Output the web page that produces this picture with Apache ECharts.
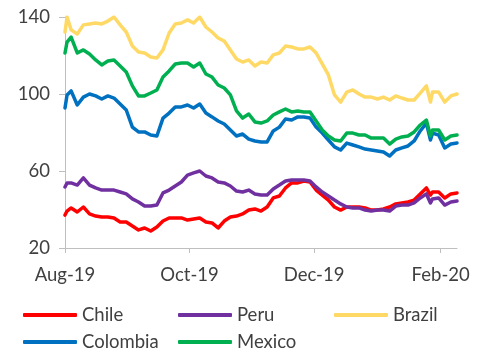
<!DOCTYPE html>
<html><head><meta charset="utf-8">
<script src="https://cdn.jsdelivr.net/npm/echarts@6/dist/echarts.min.js"></script>
<style>html,body{margin:0;padding:0;background:#fff}#c{width:480px;height:352px}</style>
</head><body><div id="c"></div>
<script>
// x = days since 1 Aug 2019
var days = [0,1,3,6,9,12,15,18,21,24,27,30,33,36,39,42,45,48,51,54,57,60,63,66,69,72,75,78,81,84,87,90,93,96,99,102,105,108,111,114,117,120,123,126,129,132,135,138,141,144,147,150,153,156,159,162,165,168,171,174,177,179,180,183,186,189,192];
var tickDays = [0,61,122,184];
var tickLabels = ['Aug-19','Oct-19','Dec-19','Feb-20'];
var yTicks = [20,60,100,140];

var chile = [37.1,39.2,40.8,38.7,41.3,37.7,36.6,36.1,36.1,35.6,33.5,33.5,31.4,29.4,30.4,28.8,30.9,34.0,35.6,35.6,35.6,34.5,35.1,35.6,33.5,33.0,30.4,34.0,36.1,36.6,37.7,39.7,40.3,39.2,41.3,46.0,47.0,51.2,53.8,53.8,54.8,54.3,50.1,47.5,44.9,41.3,39.7,41.3,41.3,41.3,40.8,39.7,39.7,40.3,41.3,42.9,43.4,43.9,44.9,48.1,51.2,47.5,49.1,49.1,46.0,48.1,48.6];
var peru = [51.7,53.8,53.8,52.7,56.4,52.7,51.2,50.1,50.1,50.1,49.1,48.1,45.5,43.9,41.8,41.8,42.3,48.6,50.1,52.2,54.3,57.9,59.0,60.0,57.4,56.4,54.3,53.8,52.2,49.6,49.1,50.1,48.1,47.5,47.5,50.7,52.7,54.8,55.3,55.3,55.3,54.8,51.7,49.1,47.0,44.9,42.9,41.3,40.8,40.8,39.7,39.2,39.7,39.7,39.2,41.8,42.3,42.3,43.4,46.0,48.1,43.4,45.5,46.0,42.3,43.9,44.4];
var brazil = [132.2,140.0,133.3,131.2,135.9,136.4,136.9,136.4,137.9,140.0,135.9,132.2,124.9,121.8,121.3,119.2,118.7,122.9,131.7,136.4,136.9,138.5,136.9,140.0,134.8,132.2,129.1,127.5,122.9,118.2,116.6,117.7,114.6,116.6,116.1,120.3,121.3,124.9,124.4,123.4,123.4,124.4,121.3,115.6,109.9,99.5,95.8,101.0,102.1,100.0,98.4,98.4,97.4,98.4,96.9,99.0,97.9,96.9,96.9,100.5,104.2,95.8,101.0,101.0,95.8,99.0,100.0];
var colombia = [92.7,99.5,101.6,94.3,98.4,100.0,99.0,97.4,99.0,97.9,94.8,91.7,82.8,80.3,80.3,78.7,78.2,87.5,90.1,93.3,93.3,94.3,92.7,94.8,90.1,88.1,86.0,84.4,81.3,78.2,79.2,76.6,75.6,75.1,75.1,80.8,82.8,87.0,86.5,88.1,88.1,87.5,82.8,79.7,76.1,72.5,70.9,74.5,73.5,72.5,71.4,70.9,70.4,69.9,67.8,70.9,72.0,73.0,75.6,80.8,84.9,76.1,79.7,78.7,72.0,74.0,74.5];
var mexico = [121.3,127.0,129.6,121.3,122.9,120.8,117.7,115.1,117.1,117.7,114.6,111.4,104.2,99.0,99.0,100.5,102.1,108.8,112.0,115.6,116.1,116.1,114.0,116.1,110.4,108.8,104.7,103.1,99.5,91.2,87.5,89.6,85.5,84.9,86.0,89.1,90.7,92.2,90.7,91.2,90.7,90.7,86.0,81.3,78.2,76.1,75.6,79.7,79.7,78.7,78.7,77.1,77.1,77.1,74.0,76.6,77.7,78.2,80.3,83.9,86.5,78.2,81.3,81.3,76.1,78.2,78.7];

var names = ['Chile','Peru','Brazil','Colombia','Mexico'];
var colors = ['#FF0000','#7030A0','#FFD966','#0070C0','#00B050'];
var values = [chile, peru, brazil, colombia, mexico];

function pairs(arr){ return days.map(function(d,i){ return [d, arr[i]]; }); }

var FONT = 'Lato, "Open Sans", sans-serif';
var FS = 18.5;
var legendPos = [[23,315],[178,315],[334,315],[23,342],[178,342]];

var option = {
  animation: false,
  backgroundColor: '#fff',
  grid: {left: 65, right: 23, top: 17, bottom: 104, containLabel: false},
  xAxis: {
    type: 'value', min: 0, max: 192,
    axisLine: {show: true, lineStyle: {color: '#BFBFBF', width: 1}},
    axisTick: {show: true, length: 5, lineStyle: {color: '#BFBFBF'}, customValues: tickDays},
    axisLabel: {customValues: tickDays, color: '#404040', fontSize: FS, fontFamily: FONT, margin: 18,
      formatter: function(v){ var i = tickDays.indexOf(v); return i >= 0 ? tickLabels[i] : ''; }},
    splitLine: {show: false}
  },
  yAxis: {
    type: 'value', min: 20, max: 140, interval: 40,
    axisLine: {show: true, lineStyle: {color: '#BFBFBF', width: 1}},
    axisTick: {show: true, length: 6, lineStyle: {color: '#BFBFBF'}},
    axisLabel: {color: '#404040', fontSize: FS, fontFamily: FONT, margin: 15},
    splitLine: {show: false}
  },
  legend: names.map(function(n, i){
    return {
      data: [n], left: legendPos[i][0], top: legendPos[i][1] - 11,
      icon: 'roundRect', itemWidth: 54, itemHeight: 4, itemGap: 0,
      textStyle: {color: '#404040', fontSize: FS, fontFamily: FONT, lineHeight: 22},
      padding: 0
    };
  }),
  series: names.map(function(n, i){
    return {
      name: n, type: 'line', data: pairs(values[i]), showSymbol: false, symbol: 'none',
      lineStyle: {color: colors[i], width: 3.5, cap: 'round', join: 'round'},
      itemStyle: {color: colors[i]}
    };
  })
};
var chart = echarts.init(document.getElementById('c'), null, {renderer: 'canvas'});
chart.setOption(option);
</script></body></html>
